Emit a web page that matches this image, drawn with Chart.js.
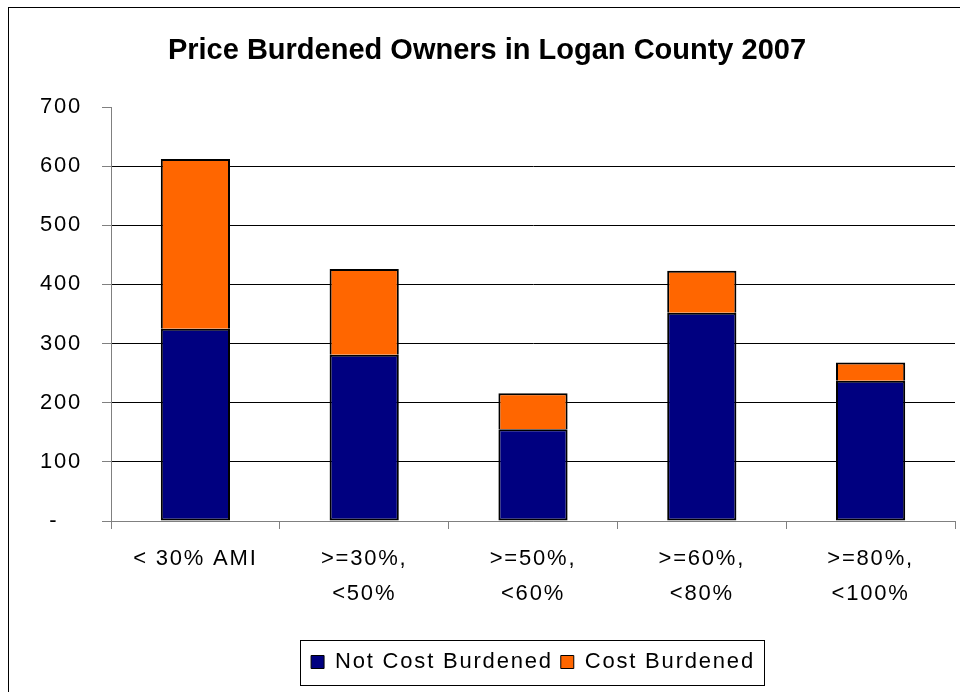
<!DOCTYPE HTML>
<html>
<head>
    <meta name="viewport" content="width=device-width, initial-scale=1">
    <script src="https://cdn.jsdelivr.net/npm/chart.js"></script>
    <style>
        body {
            margin: 0;
            background: white;
            overflow: hidden;
            font-family: "Liberation Sans", Arial, sans-serif;
        }
        #frame {
            position: absolute;
            left: 8px;
            top: 7px;
            width: 1200px;
            height: 1200px;
            border: 1px solid #000;
        }
        .chart-container {
            position: absolute;
            left: 0;
            top: 0;
            width: 960px;
            height: 692px;
        }
    </style>
</head>
<body>
    <div id="frame"></div>
    <div class="chart-container">
        <canvas id="ownersChart"></canvas>
    </div>

    <script>
        const chartTitle = 'Price Burdened Owners in Logan County 2007';
        const categories = [
            '< 30% AMI',
            ['>=30%,', '<50%'],
            ['>=50%,', '<60%'],
            ['>=60%,', '<80%'],
            ['>=80%,', '<100%']
        ];
        const notCostBurdened = [325, 281, 155, 352, 237];
        const costBurdened = [287, 145, 61, 71, 31];
        const yTickLabels = ['-   ', '100', '200', '300', '400', '500', '600', '700'];

        const font = '"Liberation Sans", Arial, sans-serif';

        // Excel-style wide text for axis and legend labels
        const spacingPlugin = {
            id: 'spacing',
            beforeUpdate(chart) {
                chart.ctx.letterSpacing = '1.8px';
            },
            beforeDraw(chart) {
                chart.ctx.letterSpacing = '1.8px';
            },
            afterDraw(chart) {
                const ctx = chart.ctx;
                ctx.save();
                ctx.letterSpacing = '0px';
                ctx.fillStyle = '#000';
                ctx.font = 'bold 29px ' + font;
                ctx.textAlign = 'center';
                ctx.textBaseline = 'alphabetic';
                ctx.fillText(chartTitle, 487, 59);

                // box around the legend
                const boxes = chart.legend.legendHitBoxes;
                if (boxes && boxes.length) {
                    const first = boxes[0];
                    const last = boxes[boxes.length - 1];
                    const mid = first.top + first.height / 2;
                    const left = Math.round(first.left - 11) + 0.5;
                    const right = Math.round(last.left + last.width + 9) + 0.5;
                    ctx.strokeStyle = '#000';
                    ctx.lineWidth = 1;
                    ctx.strokeRect(left, Math.round(mid - 22.5) + 0.5, right - left, 45);
                }
                ctx.restore();
            }
        };

        const ctx = document.getElementById('ownersChart').getContext('2d');

        const ownersChart = new Chart(ctx, {
            type: 'bar',
            data: {
                labels: categories,
                datasets: [{
                    label: 'Not Cost Burdened',
                    data: notCostBurdened,
                    backgroundColor: '#000080',
                    borderColor: '#000',
                    borderWidth: 2,
                    borderSkipped: false
                }, {
                    label: 'Cost Burdened',
                    data: costBurdened,
                    backgroundColor: '#FF6600',
                    borderColor: '#000',
                    borderWidth: 2
                }]
            },
            options: {
                responsive: true,
                maintainAspectRatio: false,
                animation: false,
                datasets: {
                    bar: {
                        barPercentage: 0.41,
                        categoryPercentage: 1
                    }
                },
                layout: {
                    padding: { top: 107, right: 5, bottom: 9, left: 0 }
                },
                plugins: {
                    title: { display: false },
                    tooltip: { enabled: false },
                    legend: {
                        position: 'bottom',
                        fullSize: false,
                        labels: {
                            color: '#000',
                            font: { family: font, size: 22 },
                            boxWidth: 13,
                            boxHeight: 13,
                            padding: 8,
                            generateLabels(chart) {
                                const items = Chart.defaults.plugins.legend.labels.generateLabels(chart);
                                items.forEach(item => { item.lineWidth = 1; });
                                return items;
                            }
                        }
                    }
                },
                scales: {
                    x: {
                        stacked: true,
                        afterFit(scale) {
                            scale.height = 122;
                        },
                        grid: {
                            offset: true,
                            drawOnChartArea: false,
                            drawTicks: true,
                            tickLength: 8,
                            tickColor: '#808080'
                        },
                        border: { color: '#808080', width: 1 },
                        ticks: {
                            color: '#000',
                            font: { family: font, size: 22, lineHeight: 1.57 },
                            padding: 13,
                            maxRotation: 0,
                            autoSkip: false
                        }
                    },
                    y: {
                        stacked: true,
                        min: 0,
                        max: 700,
                        afterFit(scale) {
                            scale.width = 111;
                        },
                        grid: {
                            color: c => {
                                if (c.tick.value === 700) return 'rgba(0,0,0,0)';
                                if (c.tick.value === 0) return '#808080';
                                return '#000';
                            },
                            tickLength: 9,
                            tickColor: '#808080'
                        },
                        border: { color: '#808080', width: 1 },
                        ticks: {
                            stepSize: 100,
                            color: '#000',
                            font: { family: font, size: 22 },
                            padding: 20,
                            callback: (value, index) => yTickLabels[index]
                        }
                    }
                }
            },
            plugins: [spacingPlugin]
        });
    </script>
</body>
</html>
